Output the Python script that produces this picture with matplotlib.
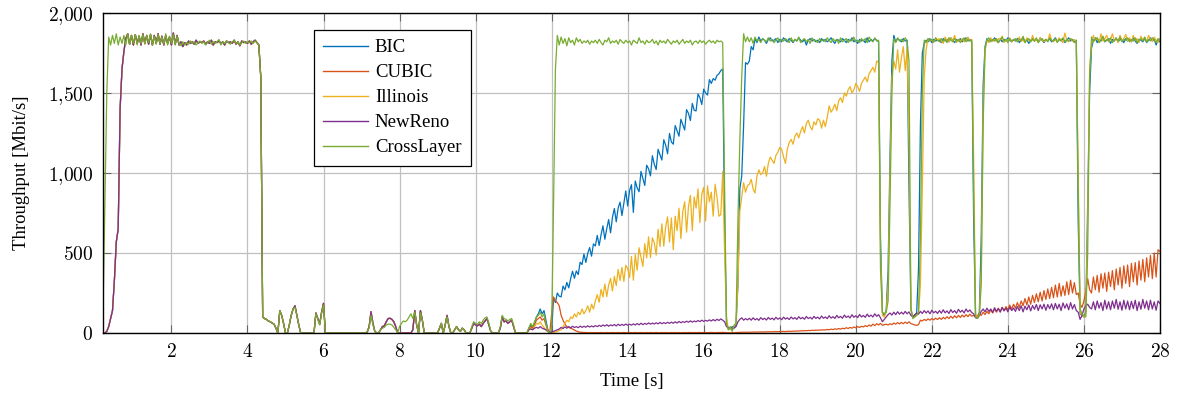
import numpy as np
import matplotlib
matplotlib.use("Agg")
import matplotlib.pyplot as plt
from matplotlib.ticker import FuncFormatter, MultipleLocator

plt.rcParams['font.family'] = ['Liberation Serif', 'DejaVu Serif']
plt.rcParams['mathtext.fontset'] = 'cm'

# sample times, 0.05 s apart (0.2 s ... 28 s)
time = np.round(np.arange(0.2, 28.0 + 1e-9, 0.05), 2)

# start-up phase, identical for the four TCP variants (0.20 - 11.15 s)
tcp_start = (
    [0, 0, 10, 40, 90, 140, 330, 570, 650, 1400, 1650, 1760, 1840, 1870, 1805, 1860, 1800, 1865, 1810, 1855]
    + [1800, 1870, 1810, 1860, 1805, 1865, 1800, 1860, 1810, 1870, 1805, 1855, 1800, 1860, 1810, 1850, 1800, 1875, 1805, 1860]
    + [1800, 1820, 1790, 1815, 1800, 1825, 1810, 1820, 1805, 1830, 1810, 1820, 1815, 1825, 1805, 1820, 1810, 1830, 1800, 1820]
    + [1815, 1825, 1810, 1820, 1800, 1825, 1815, 1820, 1810, 1830, 1805, 1820, 1795, 1825, 1815, 1820, 1810, 1825, 1805, 1820]
    + [1830, 1815, 1800, 1600, 100, 90, 85, 75, 70, 62, 55, 30, 0, 140, 110, 60, 0, 0, 50, 110]
    + [150, 170, 110, 50, 0, 0, 0, 0, 0, 0, 0, 0, 125, 90, 55, 130, 185, 0, 0, 0]
    + [0, 0, 0, 0, 0, 0, 0, 0, 0, 0, 0, 0, 0, 0, 0, 0, 0, 0, 0, 5]
    + [40, 133, 60, 10, 0, 0, 20, 40, 45, 70, 90, 92, 85, 70, 40, 0, 0, 0, 0, 0]
    + [0, 0, 0, 20, 140, 50, 0, 140, 80, 0, 0, 0, 0, 0, 0, 0, 0, 30, 60, 0]
    + [50, 110, 40, 0, 0, 20, 40, 20, 10, 30, 20, 0, 0, 0, 30, 60, 50, 45, 55, 40]
    + [60, 75, 90, 50, 10, 0, 0, 0, 0, 30, 100, 70, 75, 60, 70, 80, 40, 0, 0, 0]
)

bic = tcp_start + (
    [0, 0, 0, 0, 30, 50, 30, 60, 100, 120, 150, 120, 140, 80, 20, 0, 10, 220, 190, 250]
    + [230, 226, 293, 270, 316, 282, 339, 386, 342, 388, 365, 442, 428, 494, 441, 498, 534, 480, 557, 544]
    + [610, 547, 613, 670, 586, 652, 709, 626, 722, 778, 695, 782, 818, 734, 811, 888, 794, 890, 927, 754]
    + [950, 907, 883, 1010, 966, 922, 1049, 1026, 982, 1108, 1055, 1022, 1148, 1114, 1081, 1208, 1174, 1120, 1247, 1194]
    + [1180, 1297, 1263, 1230, 1336, 1302, 1269, 1396, 1372, 1328, 1435, 1392, 1388, 1494, 1471, 1428, 1524, 1500, 1487, 1584]
    + [1560, 1590, 1580, 1610, 1620, 1640, 1650, 700, 60, 30, 25, 40, 30, 50, 300, 900, 980, 1300, 1690, 1680]
    + [1700, 1790, 1770, 1840, 1815, 1850, 1825, 1840, 1830, 1810, 1835, 1845, 1825, 1830, 1840, 1815, 1835, 1820, 1845, 1830]
    + [1820, 1840, 1830, 1815, 1835, 1825, 1845, 1830, 1820, 1835, 1800, 1830, 1840, 1825, 1835, 1820, 1830, 1815, 1840, 1825]
    + [1835, 1820, 1830, 1845, 1825, 1810, 1835, 1830, 1820, 1840, 1830, 1815, 1835, 1825, 1845, 1820, 1830, 1810, 1835, 1825]
    + [1830, 1815, 1845, 1820, 1835, 1825, 1840, 1830, 1820, 600, 130, 110, 140, 400, 1100, 1700, 1860, 1820, 1840, 1830]
    + [1820, 1840, 1825, 1830, 900, 150, 100, 110, 120, 400, 1300, 1750, 1810, 1830, 1820, 1840, 1815, 1835, 1825, 1830]
    + [1830, 1815, 1840, 1825, 1835, 1820, 1845, 1830, 1815, 1835, 1825, 1840, 1820, 1830, 1845, 1825, 1835, 1820, 700, 110]
    + [100, 130, 600, 1550, 1790, 1840, 1820, 1835, 1825, 1845, 1830, 1815, 1840, 1820, 1835, 1825, 1845, 1830, 1820, 1835]
    + [1825, 1840, 1815, 1830, 1845, 1820, 1835, 1810, 1830, 1840, 1825, 1835, 1820, 1845, 1830, 1815, 1835, 1825, 1840, 1820]
    + [1830, 1845, 1820, 1835, 1825, 1840, 1815, 1830, 1845, 1825, 1835, 1820, 1830, 700, 120, 110, 100, 130, 800, 1500]
    + [1780, 1830, 1845, 1815, 1835, 1825, 1850, 1820, 1830, 1840, 1810, 1835, 1825, 1845, 1820, 1835, 1830, 1815, 1840, 1825]
    + [1835, 1820, 1845, 1825, 1810, 1835, 1830, 1820, 1840, 1815, 1830, 1845, 1825, 1835, 1800, 1830, 1820]
)

cubic = tcp_start + (
    [0, 0, 0, 0, 20, 40, 30, 50, 80, 90, 100, 80, 90, 50, 20, 0, 120, 225, 200, 190]
    + [170, 110, 80, 55, 40, 35, 30, 25, 18, 12, 8, 5, 4, 3, 3, 2, 2, 2, 2, 2]
    + [2, 2, 3, 2, 2, 3, 2, 2, 3, 2, 2, 3, 2, 2, 3, 2, 2, 3, 2, 2]
    + [3, 2, 2, 3, 2, 2, 3, 2, 3, 2, 2, 3, 2, 2, 3, 2, 3, 2, 2, 3]
    + [2, 3, 2, 3, 2, 2, 3, 2, 3, 3, 2, 3, 2, 3, 3, 2, 3, 3, 2, 3]
    + [3, 3, 2, 3, 3, 3, 4, 3, 2, 2, 1, 2, 2, 3, 3, 4, 4, 5, 4, 5]
    + [5, 5, 6, 5, 6, 6, 7, 6, 7, 7, 8, 7, 8, 8, 9, 8, 9, 9, 10, 9]
    + [10, 11, 10, 12, 11, 13, 12, 14, 13, 15, 14, 16, 15, 17, 16, 18, 17, 19, 18, 20]
    + [19, 22, 20, 24, 21, 26, 23, 28, 24, 30, 26, 33, 28, 35, 30, 38, 32, 40, 34, 42]
    + [38, 46, 40, 50, 43, 55, 46, 58, 50, 60, 48, 52, 55, 50, 58, 52, 62, 55, 65, 57]
    + [66, 58, 68, 60, 70, 58, 55, 50, 48, 52, 80, 75, 85, 78, 88, 80, 90, 82, 93, 84]
    + [95, 85, 98, 88, 102, 90, 105, 92, 108, 95, 110, 97, 112, 100, 115, 102, 118, 105, 110, 100]
    + [105, 120, 110, 130, 115, 135, 120, 145, 125, 150, 130, 155, 135, 160, 140, 165, 145, 175, 150, 180]
    + [155, 190, 160, 200, 170, 215, 175, 225, 180, 235, 190, 245, 195, 255, 200, 265, 210, 275, 215, 285]
    + [220, 300, 225, 310, 230, 295, 235, 320, 240, 330, 250, 315, 240, 250, 180, 160, 200, 260, 340, 270]
    + [250, 350, 270, 360, 255, 370, 280, 375, 260, 380, 290, 390, 270, 400, 300, 410, 280, 420, 310, 425]
    + [290, 435, 320, 440, 300, 450, 330, 460, 320, 470, 350, 485, 340, 500, 350, 520, 510]
)

illinois = tcp_start + (
    [0, 0, 0, 0, 20, 30, 20, 40, 60, 55, 70, 50, 35, 20, 10, 0, 0, 5, 5, 10]
    + [15, 20, 40, 60, 80, 70, 100, 90, 120, 100, 130, 115, 150, 120, 140, 170, 130, 180, 150, 200]
    + [240, 192, 273, 225, 306, 228, 300, 341, 262, 354, 296, 397, 328, 410, 322, 423, 404, 346, 478, 330]
    + [490, 392, 533, 475, 416, 558, 470, 601, 472, 594, 566, 487, 648, 540, 682, 543, 664, 726, 568, 719]
    + [520, 730, 640, 780, 590, 760, 820, 630, 790, 860, 640, 850, 780, 900, 690, 870, 910, 700, 920, 820]
    + [880, 730, 930, 850, 730, 740, 1010, 500, 100, 20, 30, 20, 40, 60, 300, 760, 850, 940, 880, 920]
    + [930, 960, 900, 875, 980, 1020, 990, 1000, 1040, 980, 1060, 1100, 1080, 1060, 1110, 1130, 1160, 1150, 1100, 1060]
    + [1150, 1190, 1210, 1180, 1230, 1250, 1220, 1260, 1290, 1250, 1310, 1330, 1290, 1270, 1320, 1300, 1340, 1330, 1280, 1330]
    + [1290, 1350, 1420, 1380, 1400, 1430, 1390, 1450, 1470, 1440, 1500, 1480, 1520, 1540, 1500, 1520, 1560, 1540, 1510, 1560]
    + [1580, 1600, 1570, 1620, 1640, 1660, 1630, 1700, 1690, 500, 110, 100, 130, 300, 1000, 1600, 1700, 1650, 1770, 1630]
    + [1720, 1790, 1640, 1780, 1200, 150, 100, 100, 110, 120, 300, 900, 1600, 1770, 1840, 1825, 1835, 1815, 1845, 1830]
    + [1840, 1825, 1810, 1850, 1830, 1820, 1845, 1825, 1860, 1815, 1835, 1825, 1840, 1820, 1830, 1850, 1825, 1835, 1100, 120]
    + [100, 110, 400, 1400, 1760, 1830, 1815, 1845, 1825, 1835, 1820, 1840, 1830, 1855, 1815, 1835, 1825, 1845, 1820, 1830]
    + [1835, 1820, 1850, 1825, 1830, 1815, 1845, 1830, 1820, 1860, 1825, 1835, 1815, 1845, 1830, 1820, 1835, 1825, 1870, 1830]
    + [1820, 1835, 1825, 1845, 1830, 1815, 1875, 1830, 1820, 1840, 1825, 1835, 1820, 1000, 130, 110, 100, 120, 700, 1650]
    + [1800, 1860, 1830, 1845, 1815, 1870, 1825, 1840, 1860, 1820, 1835, 1870, 1825, 1845, 1815, 1860, 1830, 1840, 1865, 1825]
    + [1845, 1820, 1860, 1830, 1840, 1815, 1855, 1830, 1845, 1820, 1860, 1835, 1825, 1850, 1830, 1815, 1840]
)

newreno = tcp_start + (
    [0, 0, 0, 0, 20, 25, 20, 30, 35, 30, 40, 30, 25, 20, 10, 5, 5, 10, 15, 20]
    + [25, 35, 28, 38, 30, 40, 32, 42, 34, 40, 33, 43, 35, 42, 36, 45, 37, 44, 38, 46]
    + [40, 48, 41, 50, 43, 52, 42, 51, 45, 53, 44, 55, 46, 54, 47, 56, 48, 55, 49, 57]
    + [50, 59, 51, 61, 52, 60, 54, 63, 55, 62, 56, 64, 57, 66, 58, 65, 59, 67, 60, 68]
    + [61, 70, 62, 72, 64, 71, 66, 74, 67, 76, 68, 75, 70, 78, 71, 80, 72, 79, 74, 82]
    + [75, 84, 76, 86, 78, 88, 80, 70, 40, 30, 35, 28, 32, 40, 70, 85, 95, 80, 90, 82]
    + [92, 80, 95, 82, 90, 79, 96, 84, 92, 81, 97, 85, 93, 82, 98, 86, 94, 83, 99, 87]
    + [95, 84, 100, 88, 96, 85, 102, 89, 97, 86, 103, 90, 98, 87, 104, 91, 99, 88, 106, 92]
    + [100, 90, 108, 93, 102, 91, 110, 95, 104, 92, 112, 97, 106, 94, 114, 98, 108, 96, 116, 100]
    + [110, 98, 118, 102, 112, 100, 120, 104, 115, 95, 70, 85, 100, 115, 125, 112, 130, 115, 133, 118]
    + [130, 118, 135, 120, 132, 110, 100, 115, 125, 118, 135, 122, 140, 125, 138, 120, 142, 126, 136, 122]
    + [140, 124, 145, 126, 138, 122, 146, 128, 140, 123, 148, 130, 142, 125, 150, 132, 144, 128, 120, 95]
    + [92, 110, 135, 150, 132, 155, 135, 150, 128, 158, 136, 152, 130, 160, 138, 155, 132, 162, 140, 156]
    + [135, 165, 140, 170, 132, 168, 145, 175, 138, 172, 148, 178, 140, 176, 150, 180, 142, 178, 152, 182]
    + [145, 185, 150, 180, 140, 188, 155, 182, 145, 190, 150, 178, 140, 130, 85, 110, 150, 170, 180, 160]
    + [150, 195, 145, 200, 155, 190, 140, 205, 150, 195, 145, 200, 155, 210, 148, 195, 142, 205, 150, 200]
    + [145, 198, 152, 205, 140, 195, 148, 210, 155, 200, 145, 205, 150, 195, 142, 200, 185]
)

crosslayer = (
    [120, 800, 1500, 1850, 1800, 1860, 1810, 1870, 1800, 1850, 1810, 1860, 1800, 1870, 1805, 1860, 1810, 1865, 1800, 1860]
    + [1810, 1865, 1805, 1860, 1815, 1870, 1800, 1855, 1805, 1865, 1810, 1850, 1805, 1870, 1800, 1855, 1810, 1865, 1800, 1855]
    + [1810, 1795, 1820, 1800, 1815, 1805, 1825, 1810, 1820, 1800, 1815, 1825, 1810, 1820, 1800, 1815, 1830, 1805, 1820, 1810]
    + [1820, 1835, 1800, 1820, 1810, 1825, 1815, 1805, 1820, 1830, 1810, 1820, 1800, 1815, 1825, 1810, 1820, 1815, 1825, 1810]
    + [1825, 1815, 1800, 1600, 100, 90, 85, 75, 70, 62, 55, 30, 0, 140, 110, 60, 0, 0, 50, 110]
    + [150, 160, 110, 50, 0, 0, 0, 0, 0, 0, 0, 0, 120, 85, 50, 125, 175, 0, 0, 0]
    + [0, 0, 0, 0, 0, 0, 0, 0, 0, 0, 0, 0, 0, 0, 0, 0, 0, 0, 0, 10]
    + [30, 110, 50, 10, 0, 0, 20, 30, 35, 50, 55, 55, 50, 35, 20, 0, 40, 60, 75, 70]
    + [80, 100, 120, 90, 130, 50, 0, 125, 80, 0, 0, 0, 0, 0, 0, 0, 0, 30, 60, 0]
    + [50, 100, 40, 0, 0, 20, 40, 20, 10, 30, 20, 0, 0, 0, 40, 70, 60, 55, 70, 60]
    + [80, 95, 100, 60, 10, 0, 0, 0, 0, 40, 110, 90, 85, 75, 85, 90, 50, 0, 0, 0]
    + [0, 0, 0, 0, 30, 60, 40, 70, 100, 110, 130, 100, 120, 60, 10, 0, 20, 800, 1650, 1860]
    + [1800, 1850, 1810, 1840, 1795, 1845, 1815, 1830, 1800, 1845, 1820, 1835, 1810, 1825, 1815, 1830, 1805, 1825, 1815, 1830]
    + [1810, 1835, 1815, 1800, 1830, 1820, 1845, 1810, 1825, 1815, 1830, 1805, 1835, 1820, 1810, 1830, 1815, 1825, 1800, 1830]
    + [1820, 1810, 1845, 1815, 1825, 1805, 1830, 1815, 1820, 1835, 1810, 1825, 1800, 1830, 1815, 1825, 1810, 1835, 1820, 1805]
    + [1825, 1815, 1830, 1805, 1820, 1835, 1810, 1825, 1815, 1830, 1800, 1820, 1825, 1810, 1830, 1815, 1825, 1805, 1820, 1830]
    + [1815, 1825, 1810, 1830, 1820, 1825, 1815, 900, 60, 20, 40, 10, 50, 60, 700, 1200, 1600, 1870, 1820, 1850]
    + [1820, 1845, 1810, 1850, 1825, 1835, 1815, 1840, 1830, 1820, 1845, 1825, 1835, 1815, 1830, 1845, 1820, 1835, 1825, 1840]
    + [1830, 1815, 1845, 1820, 1835, 1825, 1850, 1815, 1830, 1840, 1820, 1835, 1810, 1845, 1825, 1830, 1815, 1840, 1825, 1835]
    + [1820, 1845, 1830, 1815, 1840, 1825, 1835, 1810, 1845, 1820, 1830, 1840, 1815, 1835, 1825, 1850, 1820, 1830, 1815, 1840]
    + [1825, 1840, 1815, 1850, 1830, 1820, 1845, 1825, 1830, 400, 130, 120, 130, 200, 800, 1500, 1840, 1815, 1845, 1825]
    + [1835, 1820, 1845, 1825, 1700, 150, 90, 100, 110, 130, 600, 1500, 1830, 1815, 1840, 1825, 1835, 1820, 1845, 1830]
    + [1820, 1840, 1825, 1835, 1815, 1845, 1830, 1820, 1840, 1825, 1835, 1815, 1830, 1845, 1820, 1835, 1825, 1830, 900, 100]
    + [90, 110, 300, 1300, 1780, 1830, 1845, 1820, 1835, 1825, 1840, 1815, 1830, 1850, 1825, 1835, 1815, 1840, 1825, 1830]
    + [1840, 1820, 1835, 1825, 1855, 1815, 1830, 1840, 1820, 1835, 1825, 1845, 1815, 1830, 1840, 1825, 1835, 1820, 1845, 1830]
    + [1825, 1840, 1815, 1835, 1830, 1845, 1820, 1835, 1825, 1840, 1830, 1815, 1825, 900, 150, 120, 110, 100, 500, 1600]
    + [1850, 1820, 1835, 1845, 1815, 1830, 1855, 1820, 1835, 1825, 1845, 1815, 1830, 1840, 1825, 1850, 1820, 1835, 1830, 1845]
    + [1820, 1835, 1825, 1845, 1815, 1830, 1840, 1825, 1850, 1820, 1835, 1825, 1845, 1830, 1815, 1840, 1830]
)

labels = ['BIC', 'CUBIC', 'Illinois', 'NewReno', 'CrossLayer']
series = [bic, cubic, illinois, newreno, crosslayer]
colors = ['#0072BD', '#D95319', '#EDB120', '#7E2F8E', '#77AC30']

for lab, s in zip(labels, series):
    assert len(s) == len(time), (lab, len(s), len(time))

fig = plt.figure(figsize=(11.77, 3.93), dpi=100)
ax = fig.add_axes([0.0875, 0.1527, 0.898, 0.8142])

for lab, s, c in zip(labels, series, colors):
    ax.plot(time, s, color=c, lw=0.9, label=lab)

ax.set_xlim(0.2, 28)
ax.set_ylim(0, 2000)
ax.xaxis.set_major_locator(MultipleLocator(2))
ax.yaxis.set_major_locator(MultipleLocator(500))
ax.xaxis.set_major_formatter(FuncFormatter(lambda v, p: '$%d$' % v))
ax.yaxis.set_major_formatter(
    FuncFormatter(lambda v, p: '$' + '{:,}'.format(int(v)).replace(',', '{,}') + '$'))
ax.tick_params(direction='in', length=6, width=0.8, color='#666666',
               top=True, right=True, labelsize=14, pad=7)
ax.grid(True, color='#c0c0c0', lw=0.9)
ax.set_axisbelow(True)
for sp in ax.spines.values():
    sp.set_linewidth(1.0)
    sp.set_color('black')

ax.set_xlabel('Time [s]', fontsize=13.5, labelpad=9)
ax.set_ylabel('Throughput [Mbit/s]', fontsize=13.5, labelpad=13)

leg = ax.legend(loc='upper left', bbox_to_anchor=(0.1996, 0.947), borderaxespad=0,
                fontsize=13.5, handlelength=2.4, handletextpad=0.35,
                labelspacing=0.42, borderpad=0.5, fancybox=False, framealpha=1)
leg.get_frame().set_edgecolor('black')
leg.get_frame().set_linewidth(0.9)
for h in leg.get_lines():
    h.set_linewidth(1.0)

fig.savefig('out.png', dpi=100)
